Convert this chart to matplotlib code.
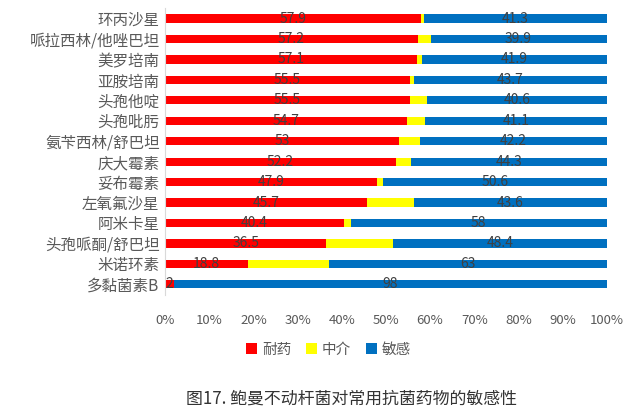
import numpy as np
import matplotlib
matplotlib.use("Agg")
import matplotlib.pyplot as plt

plt.rcParams['font.family'] = ['Noto Sans CJK SC', 'DejaVu Sans']

# data (percent)
drugs = ["环丙沙星", "哌拉西林/他唑巴坦", "美罗培南", "亚胺培南", "头孢他啶",
         "头孢吡肟", "氨苄西林/舒巴坦", "庆大霉素", "妥布霉素", "左氧氟沙星",
         "阿米卡星", "头孢哌酮/舒巴坦", "米诺环素", "多黏菌素B"]
resistant = [57.9, 57.2, 57.1, 55.5, 55.5, 54.7, 53, 52.2, 47.9, 45.7, 40.4, 36.5, 18.8, 2]
intermediate = [0.8, 2.9, 1.0, 0.8, 3.9, 4.2, 4.8, 3.5, 1.5, 10.7, 1.6, 15.1, 18.2, 0]
sensitive = [41.3, 39.9, 41.9, 43.7, 40.6, 41.1, 42.2, 44.3, 50.6, 43.6, 58, 48.4, 63, 98]
series_names = ["耐药", "中介", "敏感"]
xticks = [0, 10, 20, 30, 40, 50, 60, 70, 80, 90, 100]

fig = plt.figure(figsize=(6.4, 4.16), dpi=100)
ax = fig.add_axes([0.258, 0.292, 0.69, 0.688])

y = np.arange(len(drugs))
r = np.array(resistant)
m = np.array(intermediate)
s = np.array(sensitive)
tot = r + m + s
rp, mp, sp = r / tot * 100, m / tot * 100, s / tot * 100

h = 0.4
b1 = ax.barh(y, rp, height=h, color="#FF0000", label=series_names[0])
b2 = ax.barh(y, mp, left=rp, height=h, color="#FFFF00", label=series_names[1])
b3 = ax.barh(y, sp, left=rp + mp, height=h, color="#0070C0", label=series_names[2])

for i in range(len(drugs)):
    ax.text(rp[i] / 2, y[i], f"{resistant[i]:g}", ha="center", va="center",
            fontsize=10, color="#404040")
    ax.text(rp[i] + mp[i] + sp[i] / 2, y[i], f"{sensitive[i]:g}", ha="center",
            va="center", fontsize=10, color="#404040")

ax.set_xlim(0, 100)
ax.set_ylim(len(drugs) - 0.5, -0.5)
ax.set_yticks(y)
ax.set_yticklabels(drugs, fontsize=11.2, color="#595959")
ax.set_xticks(xticks)
ax.set_xticklabels([f"{t}%" for t in xticks], fontsize=9.5, color="#595959")
ax.tick_params(axis="both", length=0)
ax.tick_params(axis="x", pad=14)
ax.tick_params(axis="y", pad=4)
for sp_name in ["top", "right", "bottom"]:
    ax.spines[sp_name].set_visible(False)
ax.spines["left"].set_color("#D9D9D9")

fig.legend(handles=[b1, b2, b3], labels=series_names, loc="center",
           bbox_to_anchor=(0.513, 0.159), ncol=3, frameon=False,
           fontsize=10.5, handlelength=0.8, handleheight=0.8,
           handletextpad=0.3, columnspacing=1.0, labelcolor="#595959")

fig.text(0.549, 0.043, "图17. 鲍曼不动杆菌对常用抗菌药物的敏感性", ha="center",
         va="center", fontsize=12.2, color="#333333")

fig.savefig("out.png", dpi=100)
